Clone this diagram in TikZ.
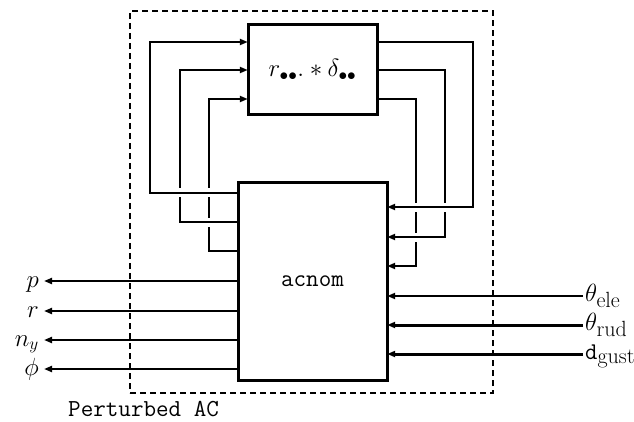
\documentclass[tikz,border=0pt]{standalone}
\usepackage{fontspec}
\usetikzlibrary{arrows.meta}
\begin{document}
\begin{tikzpicture}[x=1pt,y=-1pt,
 conn/.style={line width=2pt},
 thk/.style={line width=3pt},
 tip/.style={-{Triangle[length=8pt,width=6pt]}},
 cross/.style={preaction={draw=white,line width=9pt,-}},
 blk/.style={draw,line width=3pt,inner sep=0pt},
 lbl/.style={inner sep=0pt,font=\fontsize{26}{30}\selectfont},
 ttl/.style={inner sep=0pt,font=\fontsize{24.4}{28}\selectfont\ttfamily}]
\useasboundingbox (0,0) rectangle (634,422);
% frame
\node[draw,dashed,line width=1.8pt,dash pattern=on 6pt off 4pt,minimum width=363pt,minimum height=382pt,inner sep=0pt] (frame) at (311.5,202) {};
% block positions
\path (312.5,70) coordinate (rc);
\path (312.5,281.5) coordinate (ac);
\node[inner sep=0pt,minimum width=129pt,minimum height=90pt] (rbox) at (rc) {};
\node[inner sep=0pt,minimum width=149pt,minimum height=197pt] (acnom) at (ac) {};
% outputs on the left
\coordinate (o1) at (44,281);
\coordinate (o2) at (44,311);
\coordinate (o3) at (44,340);
\coordinate (o4) at (44,369);
\node[lbl,anchor=base east] (lp) at (39,287) {$p$};
\node[lbl,anchor=base east] (lr) at (39,317) {$r$};
\node[lbl,anchor=base east] (lny) at (39,346) {$n_y$};
\node[lbl,anchor=base east] (lphi) at (39,375) {$\phi$};
\draw[conn,tip] (acnom.west |- o1) -- (o1);
\draw[conn,tip] (acnom.west |- o2) -- (o2);
\draw[conn,tip] (acnom.west |- o3) -- (o3);
\draw[conn,tip] (acnom.west |- o4) -- (o4);
% inputs on the right
\coordinate (i1) at (583,296);
\coordinate (i2) at (583,325);
\coordinate (i3) at (583,354);
\node[lbl,anchor=base west] (tele) at (585,301) {$\theta_{\mbox{\fontsize{22}{24}\selectfont ele}}$};
\node[lbl,anchor=base west] (trud) at (585,330) {$\theta_{\mbox{\fontsize{22}{24}\selectfont rud}}$};
\node[lbl,anchor=base west] (dg) at (585,359) {\fontsize{24}{26}\selectfont\texttt{d}$_{\mbox{\fontsize{22}{24}\selectfont gust}}$};
\draw[conn,tip] (i1) -- (acnom.east |- i1);
\draw[thk,tip] (i2) -- (acnom.east |- i2);
\draw[thk,tip] (i3) -- (acnom.east |- i3);
% left feedback loops (inner first)
\draw[conn,tip,cross] (acnom.west |- 0,251) -| (209,99) -- (rbox.west |- 0,99);
\draw[conn,tip,cross] (acnom.west |- 0,222) -| (180,70) -- (rbox.west |- 0,70);
\draw[conn,tip,cross] (acnom.west |- 0,193) -| (150,42) -- (rbox.west |- 0,42);
% right feedback loops (inner first)
\draw[conn,tip,cross] (rbox.east |- 0,99) -| (416,266) -- (acnom.east |- 0,266);
\draw[conn,tip,cross] (rbox.east |- 0,70) -| (445,237) -- (acnom.east |- 0,237);
\draw[conn,tip,cross] (rbox.east |- 0,42) -| (473,207) -- (acnom.east |- 0,207);
% blocks drawn on top
\node[blk,minimum width=129pt,minimum height=90pt,font=\fontsize{26}{30}\selectfont] at (rc) {$r_{\bullet\bullet}.*\delta_{\bullet\bullet}$};
\node[blk,minimum width=149pt,minimum height=197pt,ttl] at (ac) {acnom};
% caption
\node[ttl,anchor=base west] (cap) at (68,416) {Perturbed AC};
\end{tikzpicture}
\end{document}
